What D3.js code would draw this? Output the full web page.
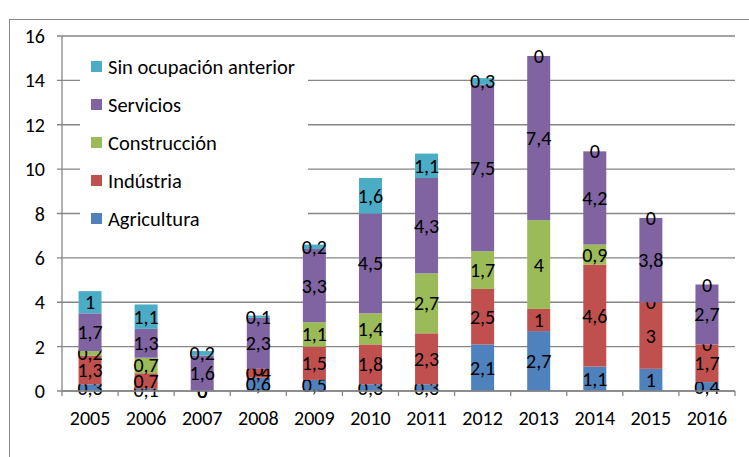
<!DOCTYPE html>
<html>
<head>
<meta charset="utf-8">
<script src="https://cdn.jsdelivr.net/npm/d3@7"></script>
<style>
body{margin:0;background:#fff;}
svg text{font-family:Carlito,Lato,"Liberation Sans",sans-serif;fill:#000;}
</style>
</head>
<body>
<svg id="chart"></svg>
<script>
//data
var years=["2005","2006","2007","2008","2009","2010","2011","2012","2013","2014","2015","2016"]
var agricultura=[0.3,0.1,0,0.6,0.5,0.3,0.3,2.1,2.7,1.1,1,0.4]
var industria=[1.3,0.7,0,0.4,1.5,1.8,2.3,2.5,1,4.6,3,1.7]
var construccion=[0.2,0.7,0,0,1.1,1.4,2.7,1.7,4,0.9,0,0]
var servicios=[1.7,1.3,1.6,2.3,3.3,4.5,4.3,7.5,7.4,4.2,3.8,2.7]
var sinOcupacion=[1,1.1,0.2,0.1,0.2,1.6,1.1,0.3,0,0,0,0]
var yTicks=[0,2,4,6,8,10,12,14,16]

var seriesNames=["Agricultura","Indústria","Construcción","Servicios","Sin ocupación anterior"]
var seriesColors=["#4F81BD","#C0504D","#9BBB59","#8064A2","#4BACC6"]

var rows=years.map(function(y,i){
    return {year:y,
        "Agricultura":agricultura[i],
        "Indústria":industria[i],
        "Construcción":construccion[i],
        "Servicios":servicios[i],
        "Sin ocupación anterior":sinOcupacion[i]}
})

var fmt=function(v){return String(v).replace(".",",")}

var initGraph=function()
{
    var screen={width:749,height:457}
    var plot={left:62,right:735,top:36,bottom:391}

    var svg=d3.select("#chart")
        .attr("width",screen.width)
        .attr("height",screen.height)

    //outer border
    svg.append("rect")
        .attr("x",9.5).attr("y",19.5)
        .attr("width",760).attr("height",460)
        .attr("fill","none")
        .attr("stroke","#868686")
        .attr("stroke-width",1)

    var xScale=d3.scaleBand()
        .domain(years)
        .range([plot.left,plot.right])
        .paddingInner(0.59)
        .paddingOuter(0.295)
    var xBand=d3.scaleBand().domain(years).range([plot.left,plot.right])
    var yScale=d3.scaleLinear()
        .domain([0,16])
        .range([plot.bottom,plot.top])

    //gridlines
    svg.append("g").selectAll("line")
        .data(yTicks)
        .enter()
        .append("line")
        .attr("x1",plot.left-5).attr("x2",plot.right)
        .attr("y1",function(d){return yScale(d)})
        .attr("y2",function(d){return yScale(d)})
        .attr("stroke","#868686")
        .attr("stroke-width",1.3)

    //y labels
    svg.append("g").selectAll("text")
        .data(yTicks)
        .enter()
        .append("text")
        .text(function(d){return d})
        .attr("x",45)
        .attr("y",function(d){return yScale(d)+7})
        .attr("text-anchor","end")
        .style("font-size","20px")

    //stacked bars
    var stack=d3.stack().keys(seriesNames)
    var layers=stack(rows)
    var groups=svg.append("g").selectAll("g")
        .data(layers)
        .enter()
        .append("g")
        .attr("fill",function(d,i){return seriesColors[i]})
    groups.selectAll("rect")
        .data(function(d){return d})
        .enter()
        .append("rect")
        .attr("x",function(d){return xScale(d.data.year)})
        .attr("y",function(d){return yScale(d[1])})
        .attr("width",xScale.bandwidth())
        .attr("height",function(d){return yScale(d[0])-yScale(d[1])})

    //axes lines
    svg.append("line")
        .attr("x1",plot.left).attr("x2",plot.left)
        .attr("y1",plot.top).attr("y2",plot.bottom)
        .attr("stroke","#868686").attr("stroke-width",1.3)
    svg.append("line")
        .attr("x1",plot.left).attr("x2",plot.right)
        .attr("y1",plot.bottom).attr("y2",plot.bottom)
        .attr("stroke","#868686").attr("stroke-width",1.3)
    svg.append("g").selectAll("line")
        .data(years.concat(["end"]))
        .enter()
        .append("line")
        .attr("x1",function(d,i){return plot.left+i*xBand.bandwidth()})
        .attr("x2",function(d,i){return plot.left+i*xBand.bandwidth()})
        .attr("y1",plot.bottom).attr("y2",plot.bottom+5)
        .attr("stroke","#868686").attr("stroke-width",1.3)

    //x labels
    svg.append("g").selectAll("text")
        .data(years)
        .enter()
        .append("text")
        .text(function(d){return d})
        .attr("x",function(d){return xBand(d)+xBand.bandwidth()/2})
        .attr("y",425)
        .attr("text-anchor","middle")
        .style("font-size","20px")

    //data labels
    groups.selectAll("text")
        .data(function(d){return d.map(function(p){return {p:p,key:d.key}})})
        .enter()
        .append("text")
        .text(function(d){return fmt(d.p.data[d.key])})
        .attr("x",function(d){return xBand(d.p.data.year)+xBand.bandwidth()/2})
        .attr("y",function(d){return yScale((d.p[0]+d.p[1])/2)+7})
        .attr("text-anchor","middle")
        .style("font-size","20px")
        .style("fill","#000")

    //legend
    var legend=svg.append("g")
    legend.append("rect")
        .attr("x",80).attr("y",46)
        .attr("width",228).attr("height",192)
        .attr("fill","#fff")
    var entries=legend.selectAll("g")
        .data(seriesNames.slice().reverse())
        .enter()
        .append("g")
        .attr("transform",function(d,i){return "translate(91,"+(67+i*38)+")"})
    entries.append("rect")
        .attr("x",0).attr("y",-6)
        .attr("width",11).attr("height",11)
        .attr("fill",function(d){return seriesColors[seriesNames.indexOf(d)]})
    entries.append("text")
        .text(function(d){return d})
        .attr("x",17).attr("y",7)
        .style("font-size","20.5px")
}
initGraph()
</script>
</body>
</html>
